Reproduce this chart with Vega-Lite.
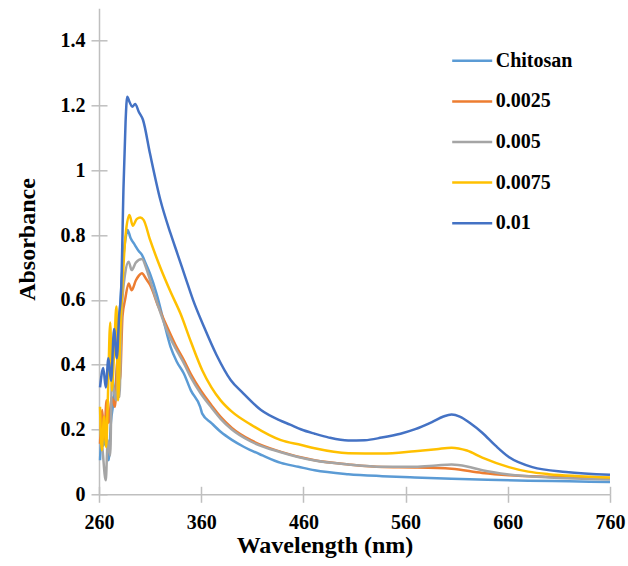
{
  "$schema": "https://vega.github.io/schema/vega-lite/v6.json",
  "width": 511,
  "height": 486,
  "autosize": {"type": "none"},
  "padding": {"left": 99, "top": 8.3, "right": 18, "bottom": 71.7},
  "config": {"view": {"stroke": null}, "font": "Liberation Serif"},
  "data": {"values": [
    {"s":"Chitosan","wl":261,"a":0.105},{"s":"Chitosan","wl":262.6,"a":0.177},{"s":"Chitosan","wl":264.5,"a":0.15},{"s":"Chitosan","wl":266.6,"a":0.19},{"s":"Chitosan","wl":269.4,"a":0.105},{"s":"Chitosan","wl":271.6,"a":0.22},{"s":"Chitosan","wl":274.4,"a":0.29},{"s":"Chitosan","wl":277.6,"a":0.39},{"s":"Chitosan","wl":280.5,"a":0.57},{"s":"Chitosan","wl":283,"a":0.7},{"s":"Chitosan","wl":286,"a":0.79},{"s":"Chitosan","wl":288,"a":0.816},{"s":"Chitosan","wl":291,"a":0.79},{"s":"Chitosan","wl":295,"a":0.77},{"s":"Chitosan","wl":299,"a":0.75},{"s":"Chitosan","wl":302,"a":0.739},{"s":"Chitosan","wl":306,"a":0.71},{"s":"Chitosan","wl":310,"a":0.68},{"s":"Chitosan","wl":316.7,"a":0.615},{"s":"Chitosan","wl":323,"a":0.538},{"s":"Chitosan","wl":330,"a":0.455},{"s":"Chitosan","wl":336,"a":0.41},{"s":"Chitosan","wl":343,"a":0.373},{"s":"Chitosan","wl":350,"a":0.32},{"s":"Chitosan","wl":359,"a":0.27},{"s":"Chitosan","wl":361,"a":0.249},{"s":"Chitosan","wl":370,"a":0.22},{"s":"Chitosan","wl":379,"a":0.193},{"s":"Chitosan","wl":390,"a":0.168},{"s":"Chitosan","wl":402,"a":0.146},{"s":"Chitosan","wl":420,"a":0.12},{"s":"Chitosan","wl":438,"a":0.097},{"s":"Chitosan","wl":455,"a":0.085},{"s":"Chitosan","wl":471,"a":0.074},{"s":"Chitosan","wl":504,"a":0.062},{"s":"Chitosan","wl":537,"a":0.056},{"s":"Chitosan","wl":569,"a":0.052},{"s":"Chitosan","wl":605,"a":0.048},{"s":"Chitosan","wl":640,"a":0.045},{"s":"Chitosan","wl":680,"a":0.042},{"s":"Chitosan","wl":720,"a":0.04},{"s":"Chitosan","wl":760,"a":0.038},
    {"s":"0.0025","wl":261,"a":0.156},{"s":"0.0025","wl":263.2,"a":0.26},{"s":"0.0025","wl":265,"a":0.17},{"s":"0.0025","wl":267.4,"a":0.29},{"s":"0.0025","wl":269.6,"a":0.22},{"s":"0.0025","wl":272.3,"a":0.3},{"s":"0.0025","wl":275.6,"a":0.27},{"s":"0.0025","wl":278.2,"a":0.42},{"s":"0.0025","wl":280.5,"a":0.35},{"s":"0.0025","wl":283,"a":0.55},{"s":"0.0025","wl":285.5,"a":0.6},{"s":"0.0025","wl":289,"a":0.651},{"s":"0.0025","wl":292,"a":0.63},{"s":"0.0025","wl":296,"a":0.66},{"s":"0.0025","wl":299,"a":0.675},{"s":"0.0025","wl":302,"a":0.682},{"s":"0.0025","wl":306,"a":0.665},{"s":"0.0025","wl":310,"a":0.646},{"s":"0.0025","wl":318,"a":0.58},{"s":"0.0025","wl":326.6,"a":0.517},{"s":"0.0025","wl":335,"a":0.46},{"s":"0.0025","wl":343,"a":0.414},{"s":"0.0025","wl":350,"a":0.37},{"s":"0.0025","wl":359.4,"a":0.321},{"s":"0.0025","wl":370,"a":0.275},{"s":"0.0025","wl":379,"a":0.239},{"s":"0.0025","wl":390,"a":0.205},{"s":"0.0025","wl":408.6,"a":0.167},{"s":"0.0025","wl":438,"a":0.131},{"s":"0.0025","wl":471,"a":0.105},{"s":"0.0025","wl":504,"a":0.092},{"s":"0.0025","wl":537,"a":0.084},{"s":"0.0025","wl":569,"a":0.083},{"s":"0.0025","wl":605,"a":0.079},{"s":"0.0025","wl":635,"a":0.066},{"s":"0.0025","wl":661,"a":0.059},{"s":"0.0025","wl":700,"a":0.054},{"s":"0.0025","wl":760,"a":0.05},
    {"s":"0.005","wl":261,"a":0.2},{"s":"0.005","wl":263.2,"a":0.146},{"s":"0.005","wl":266.6,"a":0.043},{"s":"0.005","wl":268.6,"a":0.167},{"s":"0.005","wl":271,"a":0.12},{"s":"0.005","wl":272.6,"a":0.35},{"s":"0.005","wl":276.7,"a":0.29},{"s":"0.005","wl":278.7,"a":0.39},{"s":"0.005","wl":280,"a":0.3},{"s":"0.005","wl":282,"a":0.55},{"s":"0.005","wl":285.5,"a":0.68},{"s":"0.005","wl":289,"a":0.718},{"s":"0.005","wl":292,"a":0.692},{"s":"0.005","wl":296,"a":0.715},{"s":"0.005","wl":302,"a":0.726},{"s":"0.005","wl":306,"a":0.7},{"s":"0.005","wl":310,"a":0.66},{"s":"0.005","wl":318,"a":0.58},{"s":"0.005","wl":326.6,"a":0.505},{"s":"0.005","wl":335,"a":0.45},{"s":"0.005","wl":343,"a":0.405},{"s":"0.005","wl":350,"a":0.36},{"s":"0.005","wl":359.4,"a":0.312},{"s":"0.005","wl":370,"a":0.268},{"s":"0.005","wl":379,"a":0.233},{"s":"0.005","wl":390,"a":0.2},{"s":"0.005","wl":408.6,"a":0.163},{"s":"0.005","wl":438,"a":0.13},{"s":"0.005","wl":471,"a":0.104},{"s":"0.005","wl":504,"a":0.092},{"s":"0.005","wl":537,"a":0.085},{"s":"0.005","wl":569,"a":0.085},{"s":"0.005","wl":590,"a":0.089},{"s":"0.005","wl":605,"a":0.092},{"s":"0.005","wl":620,"a":0.086},{"s":"0.005","wl":635,"a":0.074},{"s":"0.005","wl":661,"a":0.061},{"s":"0.005","wl":700,"a":0.052},{"s":"0.005","wl":760,"a":0.046},
    {"s":"0.0075","wl":261,"a":0.27},{"s":"0.0075","wl":262.7,"a":0.136},{"s":"0.0075","wl":265,"a":0.24},{"s":"0.0075","wl":267,"a":0.146},{"s":"0.0075","wl":268.6,"a":0.29},{"s":"0.0075","wl":271,"a":0.53},{"s":"0.0075","wl":272.6,"a":0.32},{"s":"0.0075","wl":275,"a":0.455},{"s":"0.0075","wl":277,"a":0.58},{"s":"0.0075","wl":278.7,"a":0.29},{"s":"0.0075","wl":281,"a":0.51},{"s":"0.0075","wl":282.7,"a":0.63},{"s":"0.0075","wl":286,"a":0.8},{"s":"0.0075","wl":289.8,"a":0.862},{"s":"0.0075","wl":293,"a":0.829},{"s":"0.0075","wl":297,"a":0.85},{"s":"0.0075","wl":300.4,"a":0.854},{"s":"0.0075","wl":303.6,"a":0.847},{"s":"0.0075","wl":310,"a":0.785},{"s":"0.0075","wl":320,"a":0.7},{"s":"0.0075","wl":330,"a":0.625},{"s":"0.0075","wl":339.7,"a":0.558},{"s":"0.0075","wl":350,"a":0.47},{"s":"0.0075","wl":361,"a":0.383},{"s":"0.0075","wl":370,"a":0.33},{"s":"0.0075","wl":379,"a":0.29},{"s":"0.0075","wl":390,"a":0.255},{"s":"0.0075","wl":408.6,"a":0.215},{"s":"0.0075","wl":438,"a":0.167},{"s":"0.0075","wl":458,"a":0.152},{"s":"0.0075","wl":471,"a":0.142},{"s":"0.0075","wl":504,"a":0.127},{"s":"0.0075","wl":537,"a":0.126},{"s":"0.0075","wl":569,"a":0.133},{"s":"0.0075","wl":590,"a":0.139},{"s":"0.0075","wl":605,"a":0.144},{"s":"0.0075","wl":620,"a":0.135},{"s":"0.0075","wl":635,"a":0.113},{"s":"0.0075","wl":661,"a":0.084},{"s":"0.0075","wl":680,"a":0.07},{"s":"0.0075","wl":700,"a":0.062},{"s":"0.0075","wl":730,"a":0.056},{"s":"0.0075","wl":760,"a":0.052},
    {"s":"0.01","wl":261,"a":0.33},{"s":"0.01","wl":264.2,"a":0.39},{"s":"0.01","wl":266.6,"a":0.33},{"s":"0.01","wl":269.2,"a":0.42},{"s":"0.01","wl":271.8,"a":0.35},{"s":"0.01","wl":274.8,"a":0.51},{"s":"0.01","wl":277.4,"a":0.42},{"s":"0.01","wl":279.7,"a":0.55},{"s":"0.01","wl":281.7,"a":0.63},{"s":"0.01","wl":284,"a":0.95},{"s":"0.01","wl":286,"a":1.15},{"s":"0.01","wl":287.6,"a":1.227},{"s":"0.01","wl":290,"a":1.21},{"s":"0.01","wl":292.5,"a":1.196},{"s":"0.01","wl":295.4,"a":1.205},{"s":"0.01","wl":299,"a":1.18},{"s":"0.01","wl":303,"a":1.156},{"s":"0.01","wl":310,"a":1.05},{"s":"0.01","wl":320,"a":0.909},{"s":"0.01","wl":330,"a":0.805},{"s":"0.01","wl":337,"a":0.74},{"s":"0.01","wl":345,"a":0.665},{"s":"0.01","wl":352,"a":0.6},{"s":"0.01","wl":362.7,"a":0.517},{"s":"0.01","wl":375,"a":0.43},{"s":"0.01","wl":389,"a":0.352},{"s":"0.01","wl":400,"a":0.315},{"s":"0.01","wl":418.5,"a":0.26},{"s":"0.01","wl":437,"a":0.228},{"s":"0.01","wl":447,"a":0.215},{"s":"0.01","wl":458,"a":0.2},{"s":"0.01","wl":471,"a":0.187},{"s":"0.01","wl":485,"a":0.175},{"s":"0.01","wl":503.8,"a":0.166},{"s":"0.01","wl":520,"a":0.167},{"s":"0.01","wl":536.6,"a":0.175},{"s":"0.01","wl":555,"a":0.187},{"s":"0.01","wl":569.4,"a":0.201},{"s":"0.01","wl":585.8,"a":0.223},{"s":"0.01","wl":597,"a":0.24},{"s":"0.01","wl":605,"a":0.246},{"s":"0.01","wl":613,"a":0.24},{"s":"0.01","wl":623,"a":0.22},{"s":"0.01","wl":635,"a":0.19},{"s":"0.01","wl":648,"a":0.15},{"s":"0.01","wl":661,"a":0.115},{"s":"0.01","wl":684,"a":0.084},{"s":"0.01","wl":717,"a":0.069},{"s":"0.01","wl":760,"a":0.06}
  ]},
  "layer": [
    {
      "mark": {"type": "point", "opacity": 0},
      "encoding": {
        "x": {"field": "wl", "type": "quantitative", "scale": {"domain": [260, 760], "nice": false},
          "axis": {"orient": "bottom", "values": [260, 360, 460, 560, 660, 760], "tickSize": -8, "tickColor": "#bfbfbf", "tickWidth": 1.5, "labels": false, "domain": false, "title": null, "grid": false}},
        "y": {"field": "a", "type": "quantitative", "scale": {"domain": [0, 1.5], "nice": false},
          "axis": {"orient": "left", "values": [0, 0.2, 0.4, 0.6, 0.8, 1, 1.2, 1.4], "tickSize": -8, "tickColor": "#bfbfbf", "tickWidth": 1.5, "labels": false, "domain": false, "title": null, "grid": false}}
      }
    },
    {
      "mark": {"type": "line", "strokeWidth": 2.5, "interpolate": "monotone"},
      "encoding": {
        "x": {"field": "wl", "type": "quantitative", "scale": {"domain": [260, 760], "nice": false},
          "axis": {"orient": "bottom", "values": [260, 360, 460, 560, 660, 760], "tickSize": 8, "tickColor": "#bfbfbf", "tickWidth": 1.5, "domainColor": "#bfbfbf", "domainWidth": 1.5, "grid": false,
            "labelFont": "Liberation Serif", "labelFontSize": 20, "labelFontWeight": "bold", "labelColor": "#000000", "labelPadding": 10, "labelFlush": false, "labelOverlap": false,
            "title": "Wavelength (nm)", "titleFont": "Liberation Serif", "titleFontSize": 24, "titleFontWeight": "bold", "titleColor": "#000000", "titleX": 225.5, "titleY": 58.4, "titleAlign": "center", "titleBaseline": "alphabetic", "titleAnchor": null}},
        "y": {"field": "a", "type": "quantitative", "scale": {"domain": [0, 1.5], "nice": false},
          "axis": {"orient": "left", "values": [0, 0.2, 0.4, 0.6, 0.8, 1, 1.2, 1.4], "format": "~g", "tickSize": 8, "tickColor": "#bfbfbf", "tickWidth": 1.5, "domainColor": "#bfbfbf", "domainWidth": 1.5, "grid": false,
            "labelFont": "Liberation Serif", "labelFontSize": 20, "labelFontWeight": "bold", "labelColor": "#000000", "labelPadding": 6, "labelFlush": false, "labelOverlap": false,
            "title": "Absorbance", "titleFont": "Liberation Serif", "titleFontSize": 24, "titleFontWeight": "bold", "titleColor": "#000000", "titleX": -65, "titleY": 230.7, "titleAngle": 270, "titleAlign": "center", "titleBaseline": "alphabetic", "titleAnchor": null}},
        "color": {"field": "s", "type": "nominal",
          "scale": {"domain": ["Chitosan", "0.0025", "0.005", "0.0075", "0.01"], "range": ["#5B9BD5", "#ED7D31", "#A5A5A5", "#FFC000", "#4472C4"]},
          "legend": {"orient": "none", "legendX": 351.7, "legendY": 31, "title": null, "padding": 0, "symbolType": "stroke", "symbolSize": 1600, "symbolStrokeWidth": 2.5,
            "labelFont": "Liberation Serif", "labelFontSize": 20, "labelFontWeight": "bold", "labelColor": "#000000", "labelOffset": 2, "rowPadding": 8.6}}
      }
    }
  ],
  "resolve": {"axis": {"x": "independent", "y": "independent"}}
}
